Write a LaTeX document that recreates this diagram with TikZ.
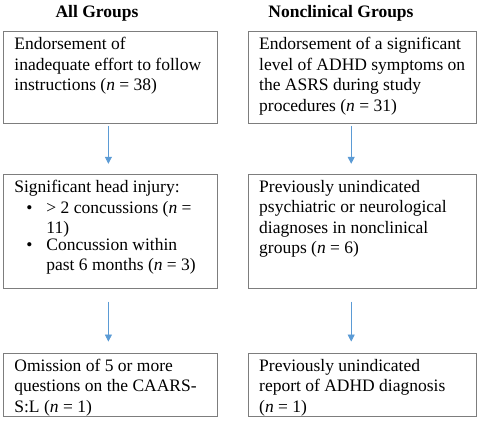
\documentclass[tikz,border=0pt]{standalone}
\usepackage{fontspec}
\setmainfont{Liberation Serif}
\definecolor{flowBlue}{RGB}{91,155,213}
\definecolor{frameGray}{RGB}{125,125,125}
\usetikzlibrary{arrows.meta,positioning}
\newcommand{\fixbox}[3]{\parbox[t][#2][t]{#1}{\raggedright #3}}
\newcommand{\crititem}[1]{\par\noindent\hspace*{12pt}\makebox[20pt][l]{\textbullet}\parbox[t]{150pt}{#1}}

\begin{document}
\begin{tikzpicture}[
  x=1pt, y=1pt,
  crit/.style={draw=frameGray, line width=0.8pt, inner xsep=11pt, inner ysep=6pt,
               anchor=north west, font=\fontsize{17.5}{20.5}\selectfont},
  head/.style={anchor=base, font=\fontsize{17.5}{20.5}\selectfont\bfseries},
  flow/.style={-{Triangle[width=7pt,length=7pt]}, flowBlue, line width=0.8pt}
]
  \useasboundingbox (0,0) rectangle (480,-427);

  % column titles
  \node[head] (allHead) at (97,-18)  {All Groups};
  \node[head] (nonHead) at (341,-18) {Nonclinical Groups};

  % all groups
  \node[crit] (allA) at (3,-31)
    {\fixbox{192pt}{80pt}{Endorsement of\\inadequate effort to follow\\instructions (\textit{n} = 38)}};
  \node[crit, below=50pt of allA] (allB)
    {\fixbox{192pt}{102pt}{Significant head injury:
      \crititem{\textgreater{} 2 concussions (\textit{n} =\\11)}
      \crititem{Concussion within\\past 6 months (\textit{n} = 3)}}};
  \node[crit, below=64pt of allB] (allC)
    {\fixbox{192pt}{51pt}{Omission of 5 or more\\questions on the CAARS-\\S:L (\textit{n} = 1)}};

  % nonclinical groups
  \node[crit, right=30pt of allA] (nonA)
    {\fixbox{206pt}{80pt}{Endorsement of a significant\\level of ADHD symptoms on\\the ASRS during study\\procedures (\textit{n} = 31)}};
  \node[crit, below=50pt of nonA] (nonB)
    {\fixbox{206pt}{102pt}{Previously unindicated\\psychiatric or neurological\\diagnoses in nonclinical\\groups (\textit{n} = 6)}};
  \node[crit, below=64pt of nonB] (nonC)
    {\fixbox{206pt}{51pt}{Previously unindicated\\report of ADHD diagnosis\\(\textit{n} = 1)}};

  \draw[flow] ([xshift=-2pt,yshift=-2pt]allA.south) -- ([xshift=-2pt,yshift=10pt]allB.north);
  \draw[flow] ([xshift=-2pt,yshift=-13pt]allB.south) -- ([xshift=-2pt,yshift=11pt]allC.north);
  \draw[flow] ([xshift=-11pt,yshift=-2pt]nonA.south) -- ([xshift=-11pt,yshift=10pt]nonB.north);
  \draw[flow] ([xshift=-11pt,yshift=-13pt]nonB.south) -- ([xshift=-11pt,yshift=11pt]nonC.north);
\end{tikzpicture}
\end{document}
